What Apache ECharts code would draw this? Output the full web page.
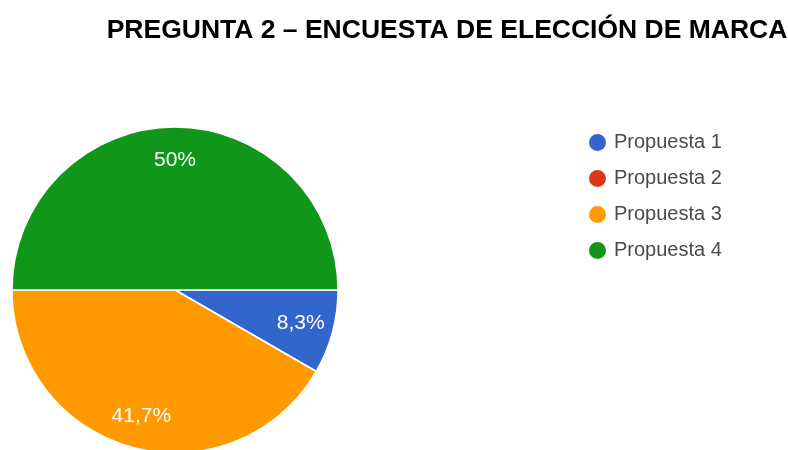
<!DOCTYPE html>
<html>
<head>
<meta charset="utf-8">
<script src="https://cdn.jsdelivr.net/npm/echarts@6/dist/echarts.min.js"></script>
<style>
  html, body { margin: 0; padding: 0; background: #ffffff; }
  #chart { width: 788px; height: 450px; }
</style>
</head>
<body>
<div id="chart"></div>
<script>
// Survey answers: brand choice, question 2
const titleText = 'PREGUNTA 2 – ENCUESTA DE ELECCIÓN DE MARCA';
const categories = ['Propuesta 1', 'Propuesta 2', 'Propuesta 3', 'Propuesta 4'];
const responses = [1, 0, 5, 6];
const sliceColors = ['#3366cc', '#dc3912', '#ff9900', '#109618'];

const total = responses.reduce((a, b) => a + b, 0);

// Percentage with a decimal comma, trailing ",0" dropped
function pctLabel(v) {
  if (!v) return '';
  let s = (v / total * 100).toFixed(1);
  if (s.endsWith('.0')) s = s.slice(0, -2);
  return s.replace('.', ',') + '%';
}

const pieData = categories.map((name, i) => ({
  name: name,
  value: responses[i],
  itemStyle: { color: sliceColors[i] }
}));

const center = [175, 290];
const outer = 163;

const chart = echarts.init(document.getElementById('chart'), null, { renderer: 'canvas' });
chart.setOption({
  backgroundColor: '#ffffff',
  animation: false,
  title: {
    text: titleText,
    left: 442,
    top: 12,
    textAlign: 'center',
    textStyle: {
      fontFamily: 'Liberation Sans, Arial, sans-serif',
      fontWeight: 'bold',
      fontSize: 26.5,
      color: '#000000'
    }
  },
  legend: {
    orient: 'vertical',
    left: 582,
    top: 127,
    icon: 'circle',
    itemWidth: 19,
    itemHeight: 19,
    itemGap: 15,
    data: categories,
    textStyle: {
      fontFamily: 'Liberation Sans, Arial, sans-serif',
      fontSize: 20,
      color: '#4a4a4a',
      padding: [0, 0, 0, 2]
    }
  },
  series: [
    {
      name: 'slices',
      type: 'pie',
      center: center,
      radius: [0, outer],
      startAngle: 0,
      clockwise: true,
      minAngle: 0,
      avoidLabelOverlap: false,
      itemStyle: { borderColor: '#ffffff', borderWidth: 1.5 },
      label: { show: false },
      labelLine: { show: false },
      emphasis: { disabled: true },
      data: pieData
    },
    {
      // label ring: transparent sectors that place the percentages
      name: 'labels',
      type: 'pie',
      center: center,
      radius: [outer * 0.56, outer],
      startAngle: 0,
      clockwise: true,
      silent: true,
      avoidLabelOverlap: false,
      itemStyle: { color: 'rgba(0,0,0,0)', borderWidth: 0 },
      label: {
        show: true,
        position: 'inside',
        formatter: p => pctLabel(p.value),
        fontFamily: 'Liberation Sans, Arial, sans-serif',
        fontSize: 21,
        color: '#ffffff'
      },
      labelLine: { show: false },
      emphasis: { disabled: true },
      data: categories.map((name, i) => ({ name: name, value: responses[i], itemStyle: { color: 'rgba(0,0,0,0)' } }))
    }
  ]
});
</script>
</body>
</html>
